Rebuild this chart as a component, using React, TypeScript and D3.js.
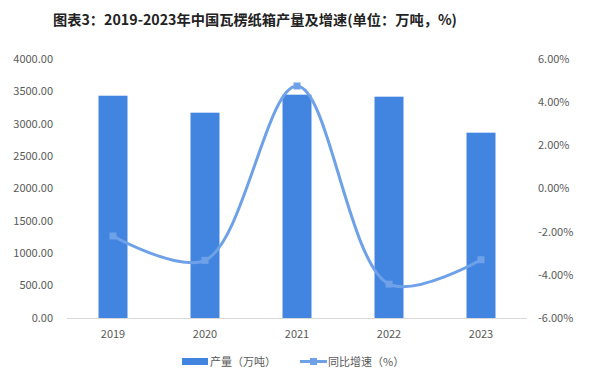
import * as d3 from 'd3';

const years = ['2019', '2020', '2021', '2022', '2023'];
const output = [3433, 3171, 3449, 3418, 2862];
const growth = [-2.2, -3.33, 4.75, -4.43, -3.3];
const leftTicks = [0, 500, 1000, 1500, 2000, 2500, 3000, 3500, 4000];
const rightTicks = [-6, -4, -2, 0, 2, 4, 6];

const W = 594;
const H = 375;
const plot = { left: 67, right: 527, top: 59, bottom: 318 };
const barColor = '#4285e0';
const lineColor = '#6ea1e8';
const font = '"Noto Sans CJK SC", "Microsoft YaHei", sans-serif';

const App = () => {
  const x = d3
    .scaleBand<string>()
    .domain(years)
    .range([plot.left, plot.right])
    .paddingInner(0.685)
    .paddingOuter(0.3425);
  const yL = d3.scaleLinear().domain([0, 4000]).range([plot.bottom, plot.top]);
  const yR = d3.scaleLinear().domain([-6, 6]).range([plot.bottom, plot.top]);

  const cx = (d: string) => x(d)! + x.bandwidth() / 2;

  const line = d3
    .line<number>()
    .x((d, i) => cx(years[i]))
    .y((d) => yR(d))
    .curve(d3.curveCatmullRom.alpha(0.5));

  return (
    <svg
      width={W}
      height={H}
      style={{ position: 'absolute', left: 0, top: 0, background: '#fff' }}
      fontFamily={font}
    >
      <text
        x={255}
        y={25}
        textAnchor="middle"
        fontSize={14}
        fontWeight="bold"
        fill="#222"
        textLength={404}
        lengthAdjust="spacingAndGlyphs"
      >
        图表3：2019-2023年中国瓦楞纸箱产量及增速(单位：万吨，%)
      </text>

      {leftTicks.map((t) => (
        <text
          key={'l' + t}
          x={53}
          y={yL(t)}
          dy="0.35em"
          textAnchor="end"
          fontSize={11}
          fill="#595959"
        >
          {t.toFixed(2)}
        </text>
      ))}
      {rightTicks.map((t) => (
        <text
          key={'r' + t}
          x={538}
          y={yR(t)}
          dy="0.35em"
          textAnchor="start"
          fontSize={11}
          fill="#595959"
        >
          {t.toFixed(2) + '%'}
        </text>
      ))}

      {output.map((v, i) => (
        <rect
          key={years[i]}
          x={x(years[i])}
          y={yL(v)}
          width={x.bandwidth()}
          height={yL(0) - yL(v)}
          fill={barColor}
        />
      ))}

      <line
        x1={plot.left}
        x2={plot.right}
        y1={plot.bottom + 0.5}
        y2={plot.bottom + 0.5}
        stroke="#d9d9d9"
      />

      {years.map((yr) => (
        <text
          key={'x' + yr}
          x={cx(yr)}
          y={334}
          dy="0.35em"
          textAnchor="middle"
          fontSize={11}
          fill="#595959"
        >
          {yr}
        </text>
      ))}

      <path
        d={line(growth) || ''}
        fill="none"
        stroke={lineColor}
        strokeWidth={3}
        strokeLinecap="round"
      />
      {growth.map((g, i) => (
        <rect
          key={'m' + i}
          x={cx(years[i]) - 3.5}
          y={yR(g) - 3.5}
          width={7}
          height={7}
          fill={lineColor}
        />
      ))}

      <g fontSize={11} fill="#595959">
        <rect x={182} y={358} width={26} height={7} fill={barColor} />
        <text x={210} y={362} dy="0.35em">
          产量（万吨）
        </text>
        <line
          x1={300}
          x2={327}
          y1={361.5}
          y2={361.5}
          stroke={lineColor}
          strokeWidth={3}
        />
        <rect x={310} y={358} width={7} height={7} fill={lineColor} />
        <text x={328} y={362} dy="0.35em">
          同比增速（%）
        </text>
      </g>
    </svg>
  );
};

export default App;
